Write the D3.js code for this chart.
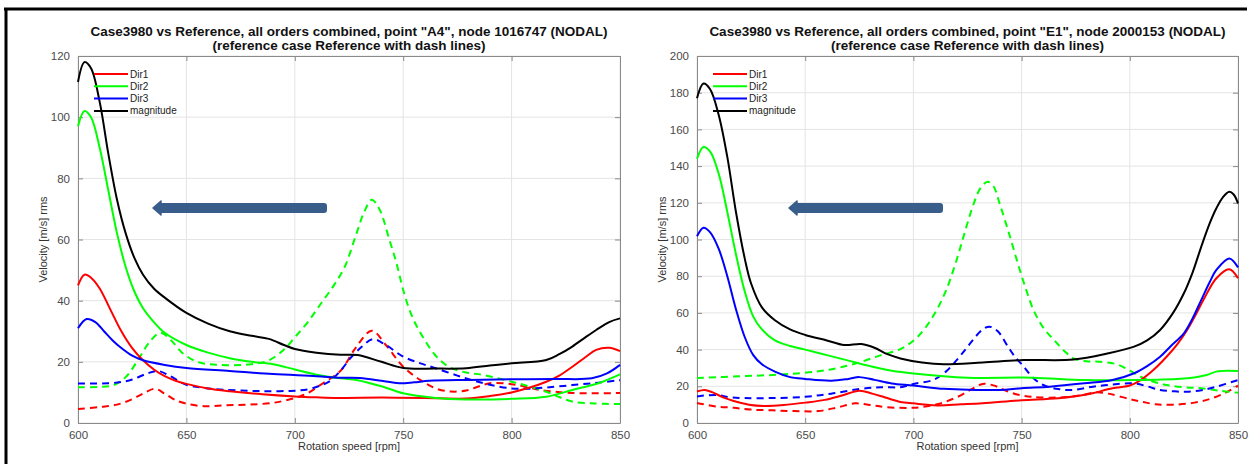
<!DOCTYPE html>
<html>
<head>
<meta charset="utf-8">
<script src="https://cdn.jsdelivr.net/npm/d3@7"></script>
<style>
  body { margin: 0; background: #fff; }
  svg { font-family: "Liberation Sans", Arial, sans-serif; }
</style>
</head>
<body>
<div id="chart"></div>
<script>
// Chart size
const width = 1251;
const height = 464;

// Tick values and labels
const rpmTicks = [600, 650, 700, 750, 800, 850];
const velTicksA4 = [0, 20, 40, 60, 80, 100, 120];
const velTicksE1 = [0, 20, 40, 60, 80, 100, 120, 140, 160, 180, 200];
const legendLabels = ["Dir1", "Dir2", "Dir3", "magnitude"];

const titleA4 = 'Case3980 vs Reference, all orders combined, point "A4", node 1016747 (NODAL)';
const titleE1 = 'Case3980 vs Reference, all orders combined, point "E1", node 2000153 (NODAL)';
const subtitle = "(reference case Reference with dash lines)";

// point A4, Case3980 (solid) [rpm, velocity]
const a4Dir1 = [[600,45],[603,48.5],[606,47.5],[610,44],[615,37],[620,30],[625,24.5],[630,20.5],[635,17.5],[640,15.3],[645,13.8],[650,12.8],[660,11.3],[670,10.4],[685,9.4],[700,8.7],[710,8.4],[720,8.2],[740,8.3],[760,8.2],[779,8.0],[790,8.8],[800,10],[808,11.5],[816,13.5],[822,15.5],[828,18.4],[834,21.5],[839,23.9],[845,24.6],[850,23.5]];
const a4Dir2 = [[600,97],[603,102],[606,100],[610,90],[614,76],[618,62],[622,51],[626,43],[630,37.5],[635,33],[640,29.5],[650,25.5],[660,23],[670,21.2],[680,20],[690,19.2],[700,17.5],[710,15.8],[721,14.6],[729,14],[740,12],[750,9.7],[765,8.2],[779,7.7],[800,7.9],[816,8.6],[828,10.8],[840,13],[850,15.9]];
const a4Dir3 = [[600,31],[604,34],[608,33],[612,30],[616,27],[620,24.5],[625,22],[630,20.5],[640,19],[650,18],[670,17],[690,16],[710,15.3],[721,14.8],[730,14.7],[740,13.8],[748,13],[755,13.3],[762,13.8],[780,14.1],[800,14.3],[820,14.4],[837,14.6],[844,16.2],[850,19]];
const a4Mag = [[600,111.5],[603,118],[606,116],[610,105],[614,88],[618,73],[622,62],[626,54],[630,48.5],[635,44],[640,41],[650,36],[660,32.5],[670,30],[680,28.5],[688,27.5],[695,25.5],[700,24.2],[710,23],[721,22.3],[729,22.2],[740,20],[750,18],[765,17.8],[779,17.9],[790,18.8],[800,19.5],[816,20.6],[822,22.5],[828,25],[834,28],[839,30.4],[845,33],[850,34.2]];

// point A4, Reference (dashed)
const a4RefDir1 = [[600,4.6],[610,5.2],[618,6],[625,7.8],[630,9.6],[635.5,11.2],[640,9.6],[645,7.5],[650,6.3],[658,5.5],[668,5.8],[679,6],[690,6.6],[697,7.6],[702,8.6],[706,9.8],[713,13],[721,17],[728,24.5],[735.5,30.2],[742,25.5],[750,18.4],[758,14],[765,11.3],[772,10.3],[779,10.6],[785,12],[790,13],[800,12.7],[808,11.6],[813,10.8],[828,9.8],[850,9.8]];
const a4RefDir2 = [[600,11.7],[610,11.8],[616,12.3],[622,15],[628,21],[633,26.5],[638,29.5],[643,27],[648,23],[655,20],[665,19],[680,19.2],[688,20.5],[695,24],[700,28],[706,33],[712,39],[718,45],[723,51],[728,61],[732,69],[735.5,73],[739,70],[743.6,60],[747,52],[750,43.5],[754,35],[759,28.2],[765,22],[771,18.4],[779,16.5],[787,15.7],[800,13.5],[808,12],[816,10.2],[822,8.5],[828,7],[838,6.4],[850,6.2]];
const a4RefDir3 = [[600,12.9],[614,13],[620,13.4],[625,14.2],[632,16.2],[637,17],[642,15.5],[650,12.5],[658,11.5],[667,10.9],[680,10.5],[688,10.4],[698,10.5],[706,11],[712,12.3],[716,13.6],[721,17],[726,21.5],[731,25],[736,27.4],[742,25.5],[750,21.7],[758,19.5],[765,17.9],[775,15.5],[782,14],[790,12.5],[800,11.3],[808,11.2],[816,11.6],[828,12.4],[840,13.2],[850,14]];

// point E1, Case3980 (solid)
const e1Dir1 = [[600,17.2],[603.5,18],[607,16.8],[612,14],[617,12],[624,10],[631,9.3],[640,9.8],[650,11.1],[659,12.6],[667,15],[675,17.6],[681,16],[687,13.9],[694,11.5],[700,10.7],[711,9.6],[722,10.2],[732,10.8],[750,12.4],[767,13.5],[780,15.5],[792,18.9],[800,20.4],[805,23.4],[811,29],[817,36.1],[822,43],[826.5,50.7],[830,58],[834,67],[840,78.9],[846,83.8],[850,78.9]];
const e1Dir2 = [[600,144],[603,150.4],[606,148],[610,136],[614,115],[618,92],[622,72],[626,58],[630,51],[636,45],[643,42],[650,40],[660,37],[670,34],[680,31],[690,28.5],[700,27],[725,24.7],[755,24.7],[779,23.4],[802,23.4],[825,24.2],[835,26],[840,28],[845,28.5],[850,28.3]];
const e1Dir3 = [[600,101.8],[603,106.4],[606,104],[610,95],[614,80],[618,62],[622,47],[626,37],[630,32],[636,28],[643,25],[650,24],[662,23],[670,24],[675,25],[682,23.5],[690,21.5],[700,20.4],[714,18.6],[722,18.3],[740,18],[750,19],[763,19.8],[779,21.6],[792,23.4],[802,27.1],[808,31],[814,36.1],[819,42],[825,48.9],[829,57],[833,67],[837,77],[840,83.4],[846,89.7],[850,84.8]];
const e1Mag = [[600,177],[603,185],[606,182],[610,168],[614,145],[618,115],[622,90],[625,76],[630,63],[636,56],[643,51],[650,48],[660,45],[668,42.5],[676,43],[682,41],[688,37.5],[694,35.2],[704,33],[714,32],[732,33],[751,34.3],[774,34.6],[790,38],[802,41.6],[808,45],[814,50.7],[820,60],[825,70.7],[829,82],[833,96],[837,109],[840,117],[843,123],[846,126],[848,124.5],[850,119.7]];

// point E1, Reference (dashed)
const e1RefDir1 = [[600,10.9],[609,9],[617,8.3],[625,7.3],[635,6.9],[645,6.5],[656,6.5],[665,8.5],[673,10.7],[680,9.8],[687,8.7],[700,8.3],[711,10.2],[720,14],[727,18.5],[732,21.3],[737,20.5],[742,18],[748,15.5],[755,14.2],[767,13.9],[777,15],[784,16.7],[790,16],[800,13],[806,11.5],[812,10.2],[820,10],[830,11.1],[838,13.5],[845,17],[850,20.4]];
const e1RefDir2 = [[600,24.5],[621,25.5],[640,26.5],[655,28],[665,30],[675,33],[685,37],[694,40.3],[702,47],[709,58],[715,72],[720,89],[724,105],[728,120],[731,128],[734.3,131.5],[737,129],[740,119],[744,104],[748,88],[752,73],[755.5,61.6],[760,52],[765,45.2],[770,39],[774,35.2],[780,33.6],[786,33.4],[794,32],[800,28.5],[805,25.2],[811,22.5],[817,20.7],[825,19.5],[833,18.9],[842,17.5],[850,16.5]];
const e1RefDir3 = [[600,14.5],[609,15.3],[615,14],[622,13.6],[635,13.6],[650,14.3],[662,16],[675,18.5],[685,19.5],[694,19.5],[700,21.3],[709,23.4],[715,28],[720,34.3],[724,40],[728,46],[732,51],[735.2,52.5],[739,50],[743.7,41.6],[747,36],[751,30.7],[755,25],[760,20.7],[767,18.5],[774,18],[783,19.8],[792,21],[801.6,21.6],[808,20],[814,18],[820,17.3],[826,17],[833,17.8],[840,19.8],[850,23.4]];

const colors = ["#ff0000", "#00ff00", "#0000ff", "#000000"];

const svg = d3.select("#chart")
  .append("svg")
  .attr("width", width)
  .attr("height", height);

svg.append("rect").attr("width", width).attr("height", height).attr("fill", "#fff");

// outer frame (top and left edge only are visible)
svg.append("line").attr("x1", 4).attr("x2", 1247).attr("y1", 9).attr("y2", 9)
  .attr("stroke", "#000").attr("stroke-width", 3);
svg.append("line").attr("x1", 6).attr("x2", 6).attr("y1", 8).attr("y2", height)
  .attr("stroke", "#000").attr("stroke-width", 3);

function drawPanel(p) {
  const g = svg.append("g");

  const x = d3.scaleLinear().domain([600, 850]).range([p.left, p.right]);
  const y = d3.scaleLinear().domain([0, p.yMax]).range([423, 56]);

  // grid
  g.selectAll(".gx").data(rpmTicks).enter().append("line")
    .attr("x1", d => x(d)).attr("x2", d => x(d))
    .attr("y1", y(0)).attr("y2", y(p.yMax))
    .attr("stroke", "#e4e4e4").attr("stroke-width", 1);
  g.selectAll(".gy").data(p.yTicks).enter().append("line")
    .attr("x1", p.left).attr("x2", p.right)
    .attr("y1", d => y(d)).attr("y2", d => y(d))
    .attr("stroke", "#e4e4e4").attr("stroke-width", 1);

  // axes, ticks pointing inward (box on)
  const bottom = g.append("g").attr("transform", `translate(0,${y(0)})`)
    .call(d3.axisBottom(x).tickValues(rpmTicks).tickSizeInner(-5).tickSizeOuter(0).tickPadding(8));
  const top = g.append("g").attr("transform", `translate(0,${y(p.yMax)})`)
    .call(d3.axisTop(x).tickValues(rpmTicks).tickSizeInner(-5).tickSizeOuter(0).tickFormat(""));
  const leftAx = g.append("g").attr("transform", `translate(${p.left},0)`)
    .call(d3.axisLeft(y).tickValues(p.yTicks).tickSizeInner(-5).tickSizeOuter(0).tickPadding(8));
  const rightAx = g.append("g").attr("transform", `translate(${p.right},0)`)
    .call(d3.axisRight(y).tickValues(p.yTicks).tickSizeInner(-5).tickSizeOuter(0).tickFormat(""));
  [bottom, top, leftAx, rightAx].forEach(a => {
    a.select(".domain").attr("stroke", "#8a8a8a");
    a.selectAll(".tick line").attr("stroke", "#8a8a8a");
    a.selectAll("text").attr("fill", "#4a4a4a").attr("font-size", "11.5px")
      .attr("font-family", "Liberation Sans, Arial, sans-serif");
  });

  // curves
  const line = d3.line()
    .x(d => x(d[0]))
    .y(d => y(d[1]))
    .curve(d3.curveCatmullRom.alpha(0.5));

  p.series.forEach((s, i) => {
    g.append("path")
      .datum(s.data)
      .attr("fill", "none")
      .attr("stroke", colors[s.c])
      .attr("stroke-width", 2)
      .attr("stroke-dasharray", s.dash ? "7,5" : null)
      .attr("d", line);
  });

  // legend
  legendLabels.forEach((lab, i) => {
    const ly = 74 + i * 12.3;
    g.append("line")
      .attr("x1", p.left + 16).attr("x2", p.left + 50)
      .attr("y1", ly).attr("y2", ly)
      .attr("stroke", colors[i]).attr("stroke-width", 2);
    g.append("text")
      .attr("x", p.left + 52).attr("y", ly + 3.5)
      .attr("font-size", "10px").attr("fill", "#222")
      .text(lab);
  });

  // arrow
  const ay = 208;
  g.append("rect")
    .attr("x", p.arrowTip + 6).attr("y", ay - 5)
    .attr("width", p.arrowEnd - p.arrowTip - 6).attr("height", 10)
    .attr("rx", 3).attr("fill", "#385d8a");
  g.append("path")
    .attr("d", `M${p.arrowTip},${ay} L${p.arrowTip + 8},${ay - 7} L${p.arrowTip + 8},${ay + 7} Z`)
    .attr("fill", "#385d8a").attr("stroke", "#385d8a").attr("stroke-linejoin", "round").attr("stroke-width", 1.5);

  // titles
  const cx = (p.left + p.right) / 2;
  g.append("text").attr("x", cx).attr("y", 36).attr("text-anchor", "middle")
    .attr("font-size", "13.5px").attr("font-weight", "bold").attr("fill", "#111")
    .text(p.title);
  g.append("text").attr("x", cx).attr("y", 50).attr("text-anchor", "middle")
    .attr("font-size", "13.5px").attr("font-weight", "bold").attr("fill", "#111")
    .text(subtitle);

  // axis labels
  g.append("text").attr("x", cx).attr("y", 450).attr("text-anchor", "middle")
    .attr("font-size", "11px").attr("fill", "#333")
    .text("Rotation speed [rpm]");
  g.append("text")
    .attr("transform", `translate(${p.left - 31},${(y(0) + y(p.yMax)) / 2}) rotate(-90)`)
    .attr("text-anchor", "middle")
    .attr("font-size", "11px").attr("fill", "#333")
    .text("Velocity [m/s] rms");
}

drawPanel({
  left: 78, right: 620, yMax: 120, yTicks: velTicksA4, title: titleA4,
  arrowTip: 153, arrowEnd: 327,
  series: [
    {data: a4RefDir1, c: 0, dash: true}, {data: a4RefDir2, c: 1, dash: true}, {data: a4RefDir3, c: 2, dash: true},
    {data: a4Dir1, c: 0}, {data: a4Dir2, c: 1}, {data: a4Dir3, c: 2}, {data: a4Mag, c: 3}
  ]
});

drawPanel({
  left: 697, right: 1238, yMax: 200, yTicks: velTicksE1, title: titleE1,
  arrowTip: 789, arrowEnd: 943,
  series: [
    {data: e1RefDir1, c: 0, dash: true}, {data: e1RefDir2, c: 1, dash: true}, {data: e1RefDir3, c: 2, dash: true},
    {data: e1Dir1, c: 0}, {data: e1Dir2, c: 1}, {data: e1Dir3, c: 2}, {data: e1Mag, c: 3}
  ]
});
</script>
</body>
</html>
